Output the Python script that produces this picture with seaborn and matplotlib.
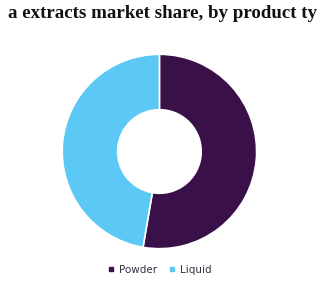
import matplotlib
matplotlib.use("Agg")
import matplotlib.pyplot as plt
import seaborn as sns
from matplotlib.lines import Line2D

sns.set_theme(style="white")

title = "a extracts market share, by product ty"
categories = ["Powder", "Liquid"]
shares = [52.7, 47.3]
colors = ["#3a1048", "#5bc8f5"]

fig = plt.figure(figsize=(3.24, 3.00), dpi=100)
ax = fig.add_axes([0.102, 0.09, 0.78, 0.81])
ax.pie(shares, colors=colors, startangle=90, counterclock=False,
       wedgeprops=dict(width=0.57, edgecolor="white", linewidth=1.2))
ax.set_aspect("equal")

fig.text(0.5, 0.955, title, ha="center", va="center",
         fontsize=13.6, fontweight="bold", family="Liberation Serif", color="#111111")

handles = [Line2D([0], [0], marker="s", linestyle="", markersize=3.5,
                  markerfacecolor=c, markeredgecolor=c) for c in colors]
fig.legend(handles, categories, loc="center", bbox_to_anchor=(0.488, 0.1),
           ncol=2, frameon=False, fontsize=7.5, handletextpad=0.1,
           handlelength=1.2, columnspacing=0.9, labelcolor="#333344")

fig.savefig("out.png", dpi=100)
